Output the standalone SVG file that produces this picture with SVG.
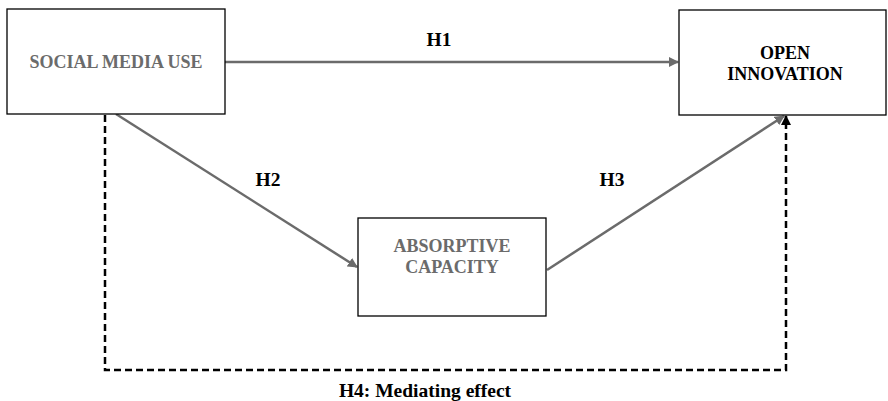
<svg xmlns="http://www.w3.org/2000/svg" width="888" height="401" viewBox="0 0 888 401">
<style>
.box{fill:#fff;stroke:#000;stroke-width:1.3}
.t{font-family:"Liberation Serif",serif;font-weight:bold;font-size:18px;text-anchor:middle}
.h{font-size:19.5px}
.g{fill:#6b6b6b}
.k{fill:#000}
.c{stroke:#6b6b6b;stroke-width:2.5;fill:none}
.d{stroke:#000;stroke-width:2.5;fill:none;stroke-dasharray:7,4}
</style>
<defs>
<marker id="ag" viewBox="0 0 10 10" refX="9" refY="5" markerWidth="4" markerHeight="4" orient="auto" markerUnits="strokeWidth"><path d="M0,0L10,5L0,10z" fill="#6b6b6b"/></marker>
<marker id="ak" viewBox="0 0 10 10" refX="9" refY="5" markerWidth="4" markerHeight="4" orient="auto" markerUnits="strokeWidth"><path d="M0,0L10,5L0,10z" fill="#000"/></marker>
</defs>
<rect width="888" height="401" fill="#fff"/>
<g id="connectors">
<line class="c" x1="225" y1="62" x2="678" y2="62" marker-end="url(#ag)"/>
<line class="c" x1="116" y1="114" x2="357" y2="267" marker-end="url(#ag)"/>
<line class="c" x1="547" y1="270" x2="784" y2="116" marker-end="url(#ag)"/>
<polyline class="d" points="105,115 105,370 786,370 786,116" marker-end="url(#ak)"/>
<text class="t h k" x="439" y="46">H1</text>
<text class="t h k" x="268" y="186">H2</text>
<text class="t h k" x="612" y="186">H3</text>
<text class="t h k" x="425" y="397">H4: Mediating effect</text>
</g>
<g id="social">
<rect class="box" x="7" y="9" width="218" height="105"/>
<text class="t g" x="116" y="68">SOCIAL MEDIA USE</text>
</g>
<g id="open">
<rect class="box" x="679" y="10" width="207" height="105"/>
<text class="t k" x="785" y="59">OPEN</text>
<text class="t k" x="785" y="80">INNOVATION</text>
</g>
<g id="absorptive">
<rect class="box" x="358" y="218" width="188" height="98"/>
<text class="t g" x="452" y="252">ABSORPTIVE</text>
<text class="t g" x="452" y="273">CAPACITY</text>
</g>
</svg>
